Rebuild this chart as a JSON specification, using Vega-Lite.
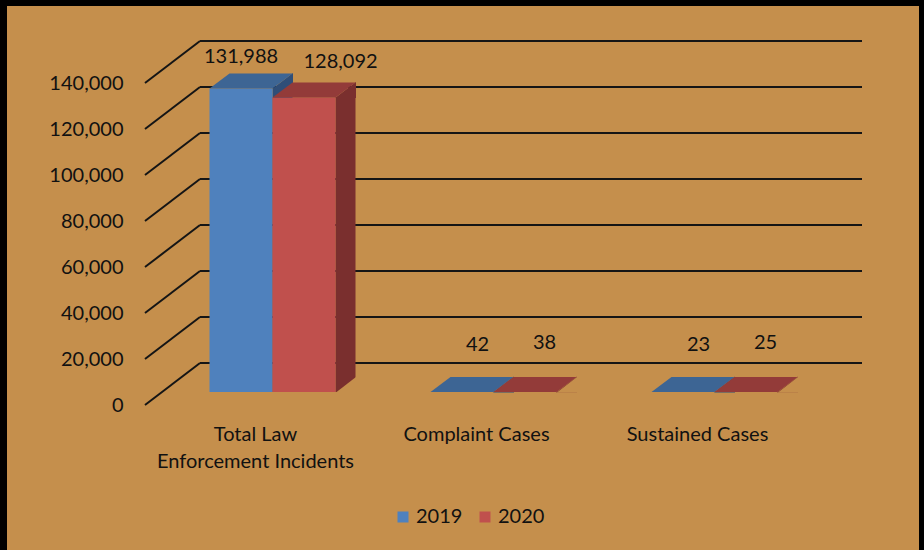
{
  "$schema": "https://vega.github.io/schema/vega-lite/v6.json",
  "autosize": "none",
  "width": 912,
  "height": 544,
  "padding": {"left": 7, "top": 6, "right": 5, "bottom": 0},
  "background": "#000000",
  "config": {
    "view": {"fill": "#C58F4C", "stroke": null},
    "font": "Lato",
    "axis": {"labelFont": "Lato", "labelFontSize": 20, "labelColor": "#111111", "domain": false, "ticks": false, "tickSize": 0, "grid": false, "labelLimit": 400},
    "axisX": {"offset": -158, "labelPadding": 32, "labelOffset": -17, "labelBaseline": "top", "labelLineHeight": 27, "labelAngle": 0,
              "labelExpr": "datum.value == 'Total Law Enforcement Incidents' ? ['Total Law', 'Enforcement Incidents'] : datum.value"},
    "axisY": {"offset": -116, "labelPadding": 0, "labelOffset": 13, "labelExpr": "format(datum.value, ',')"}
  },
  "datasets": {
    "bars": [
      {"category": "Total Law Enforcement Incidents", "year": "2019", "value": 131988},
      {"category": "Total Law Enforcement Incidents", "year": "2020", "value": 128092},
      {"category": "Complaint Cases", "year": "2019", "value": 42},
      {"category": "Complaint Cases", "year": "2020", "value": 38},
      {"category": "Sustained Cases", "year": "2019", "value": 23},
      {"category": "Sustained Cases", "year": "2020", "value": 25}
    ],
    "ticks": [
      {"tick": 0}, {"tick": 20000}, {"tick": 40000}, {"tick": 60000},
      {"tick": 80000}, {"tick": 100000}, {"tick": 120000}, {"tick": 140000}
    ]
  },
  "layer": [
    {
      "data": {"name": "bars"},
      "transform": [{"filter": "datum.year == '2019'"}],
      "mark": {"type": "bar", "width": 63, "xOffset": -31.5, "opacity": 0},
      "encoding": {
        "x": {"field": "category", "type": "nominal", "title": null,
              "scale": {"domain": ["Total Law Enforcement Incidents", "Complaint Cases", "Sustained Cases"], "range": [155, 818], "paddingInner": 0, "paddingOuter": 0}},
        "y": {"field": "value", "type": "quantitative", "title": null,
              "scale": {"domain": [0, 140000], "range": [386, 64], "nice": false, "zero": true},
              "axis": {"values": [0, 20000, 40000, 60000, 80000, 100000, 120000, 140000]}}
      }
    },
    {
      "data": {"name": "ticks"},
      "mark": {"type": "rule", "color": "#151515", "strokeWidth": 2, "xOffset": 38, "x2Offset": 37, "yOffset": -29},
      "encoding": {
        "x": {"datum": "Total Law Enforcement Incidents", "type": "nominal", "bandPosition": 0, "title": null},
        "x2": {"datum": "Sustained Cases", "bandPosition": 1},
        "y": {"field": "tick", "type": "quantitative", "title": null}
      }
    },
    {
      "data": {"name": "ticks"},
      "mark": {"type": "rule", "color": "#151515", "strokeWidth": 2, "xOffset": -17, "x2Offset": 38, "yOffset": 13, "y2Offset": -29},
      "encoding": {
        "x": {"datum": "Total Law Enforcement Incidents", "type": "nominal", "bandPosition": 0, "title": null},
        "x2": {"datum": "Total Law Enforcement Incidents", "bandPosition": 0},
        "y": {"field": "tick", "type": "quantitative", "title": null},
        "y2": {"field": "tick"}
      }
    },
    {
      "data": {"name": "bars"},
      "transform": [{"filter": "datum.year == '2019'"}],
      "mark": {"type": "bar", "width": 20, "xOffset": 10, "color": "#2F4E78"},
      "encoding": {
        "x": {"field": "category", "type": "nominal", "title": null},
        "y": {"field": "value", "type": "quantitative", "title": null}
      }
    },
    {
      "data": {"name": "bars"},
      "transform": [{"filter": "datum.year == '2020'"}],
      "mark": {"type": "bar", "width": 20, "xOffset": 73, "color": "#7A2F2E"},
      "encoding": {
        "x": {"field": "category", "type": "nominal", "title": null},
        "y": {"field": "value", "type": "quantitative", "title": null}
      }
    },
    {
      "data": {"name": "bars"},
      "transform": [{"filter": "datum.year == '2019'"}],
      "mark": {"type": "point", "filled": true, "opacity": 1, "strokeWidth": 0, "size": 10000, "xOffset": -31.5, "color": "#2F4E78",
               "shape": "M0.62,0.01L1.04,-0.31L1.04,0.01Z"},
      "encoding": {
        "x": {"field": "category", "type": "nominal", "title": null},
        "y": {"field": "value", "type": "quantitative", "title": null}
      }
    },
    {
      "data": {"name": "bars"},
      "transform": [{"filter": "datum.year == '2020'"}],
      "mark": {"type": "point", "filled": true, "opacity": 1, "strokeWidth": 0, "size": 10000, "xOffset": 31.5, "color": "#7A2F2E",
               "shape": "M0.62,0.01L1.04,-0.31L1.04,0.01Z"},
      "encoding": {
        "x": {"field": "category", "type": "nominal", "title": null},
        "y": {"field": "value", "type": "quantitative", "title": null}
      }
    },
    {
      "data": {"name": "bars"},
      "transform": [{"filter": "datum.year == '2019'"}],
      "mark": {"type": "bar", "width": 63, "xOffset": -31.5},
      "encoding": {
        "x": {"field": "category", "type": "nominal", "title": null},
        "y": {"field": "value", "type": "quantitative", "title": null},
        "color": {"field": "year", "type": "nominal",
                  "scale": {"domain": ["2019", "2020"], "range": ["#4F81BD", "#C0504D"]},
                  "legend": {"orient": "none", "legendX": 386, "legendY": 501, "direction": "horizontal", "title": null,
                             "symbolType": "square", "symbolSize": 121, "symbolStrokeWidth": 0,
                             "labelFont": "Lato", "labelFontSize": 20, "labelColor": "#111111", "labelOffset": 3, "columnPadding": 12, "padding": 0}}
      }
    },
    {
      "data": {"name": "bars"},
      "transform": [{"filter": "datum.year == '2020'"}],
      "mark": {"type": "bar", "width": 63, "xOffset": 31.5},
      "encoding": {
        "x": {"field": "category", "type": "nominal", "title": null},
        "y": {"field": "value", "type": "quantitative", "title": null},
        "color": {"field": "year", "type": "nominal"}
      }
    },
    {
      "data": {"name": "bars"},
      "transform": [{"filter": "datum.year == '2019'"}],
      "mark": {"type": "point", "filled": true, "opacity": 1, "strokeWidth": 0, "size": 10000, "xOffset": -31.5, "color": "#3D6594",
               "shape": "M-0.63,0L0.63,0L1.03,-0.3L-0.23,-0.3Z"},
      "encoding": {
        "x": {"field": "category", "type": "nominal", "title": null},
        "y": {"field": "value", "type": "quantitative", "title": null}
      }
    },
    {
      "data": {"name": "bars"},
      "transform": [{"filter": "datum.year == '2020'"}],
      "mark": {"type": "point", "filled": true, "opacity": 1, "strokeWidth": 0, "size": 10000, "xOffset": 31.5, "color": "#933B39",
               "shape": "M-0.63,0L0.63,0L1.03,-0.3L-0.23,-0.3Z"},
      "encoding": {
        "x": {"field": "category", "type": "nominal", "title": null},
        "y": {"field": "value", "type": "quantitative", "title": null}
      }
    },
    {
      "data": {"name": "bars"},
      "transform": [{"filter": "datum.year == '2020'"}],
      "mark": {"type": "point", "filled": true, "opacity": 1, "strokeWidth": 0, "size": 10000, "xOffset": 31.5, "color": "#C58F4C",
               "shape": "M0.632,0.014L1.046,0.014L1.046,-0.306Z"},
      "encoding": {
        "x": {"field": "category", "type": "nominal", "title": null},
        "y": {"datum": 0, "type": "quantitative", "title": null}
      }
    },
    {
      "data": {"name": "bars"},
      "transform": [{"filter": "datum.year == '2019' && datum.value > 1000"}],
      "mark": {"type": "text", "font": "Lato", "fontSize": 20, "color": "#111111", "align": "center", "baseline": "middle", "dx": -31.5, "dy": -31},
      "encoding": {
        "x": {"field": "category", "type": "nominal", "title": null},
        "y": {"field": "value", "type": "quantitative", "title": null},
        "text": {"field": "value", "type": "quantitative", "format": ","}
      }
    },
    {
      "data": {"name": "bars"},
      "transform": [{"filter": "datum.year == '2020' && datum.value > 1000"}],
      "mark": {"type": "text", "font": "Lato", "fontSize": 20, "color": "#111111", "align": "center", "baseline": "middle", "dx": 68, "dy": -35},
      "encoding": {
        "x": {"field": "category", "type": "nominal", "title": null},
        "y": {"field": "value", "type": "quantitative", "title": null},
        "text": {"field": "value", "type": "quantitative", "format": ","}
      }
    },
    {
      "data": {"name": "bars"},
      "transform": [{"filter": "datum.year == '2019' && datum.value <= 1000"}],
      "mark": {"type": "text", "font": "Lato", "fontSize": 20, "color": "#111111", "align": "center", "baseline": "middle", "dx": -16, "dy": -47},
      "encoding": {
        "x": {"field": "category", "type": "nominal", "title": null},
        "y": {"field": "value", "type": "quantitative", "title": null},
        "text": {"field": "value", "type": "quantitative", "format": ","}
      }
    },
    {
      "data": {"name": "bars"},
      "transform": [{"filter": "datum.year == '2020' && datum.value <= 1000"}],
      "mark": {"type": "text", "font": "Lato", "fontSize": 20, "color": "#111111", "align": "center", "baseline": "middle", "dx": 51, "dy": -49},
      "encoding": {
        "x": {"field": "category", "type": "nominal", "title": null},
        "y": {"field": "value", "type": "quantitative", "title": null},
        "text": {"field": "value", "type": "quantitative", "format": ","}
      }
    }
  ]
}
